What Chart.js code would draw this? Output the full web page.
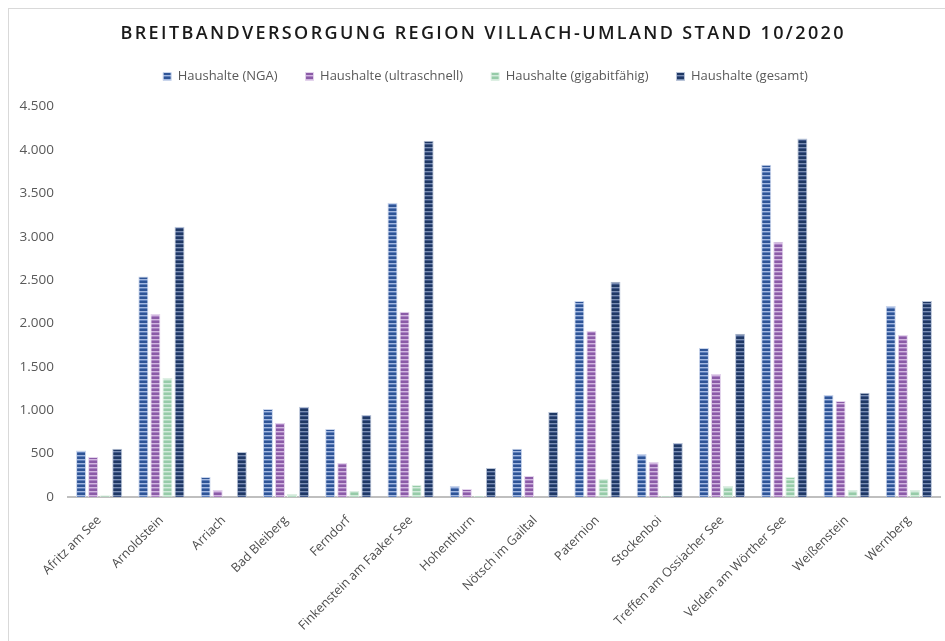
<!DOCTYPE html>
<html><head><meta charset="utf-8">
<script src="https://cdn.jsdelivr.net/npm/chart.js@4/dist/chart.umd.min.js"></script>
<style>
html,body{margin:0;padding:0;background:#fff;overflow:hidden}
#wrap{position:absolute;left:8px;top:8px;width:937px;height:633px;border-left:1px solid #d9d9d9;border-top:1px solid #d9d9d9;}
</style></head><body>
<div id="wrap"><canvas id="c"></canvas></div>
<script>
const chartTitle = 'BREITBANDVERSORGUNG REGION VILLACH-UMLAND STAND 10/2020';
const categories = ['Afritz am See','Arnoldstein','Arriach','Bad Bleiberg','Ferndorf','Finkenstein am Faaker See','Hohenthurn','Nötsch im Gailtal','Paternion','Stockenboi','Treffen am Ossiacher See','Velden am Wörther See','Weißenstein','Wernberg'];
const seriesNames = ['Haushalte (NGA)','Haushalte (ultraschnell)','Haushalte (gigabitfähig)','Haushalte (gesamt)'];
const haushalteNGA        = [535, 2540, 230, 1015, 785, 3390, 127, 555, 2260, 496, 1718, 3830, 1176, 2200];
const haushalteUltra      = [460, 2110,  80,  853, 392, 2135,  92, 242, 1915, 404, 1418, 2940, 1107, 1868];
const haushalteGigabit    = [ 20, 1370,   0,   35,  70,  138,  12,   0,  210,  12,  127,  230,   80,   80];
const haushalteGesamt     = [555, 3115, 520, 1040, 945, 4105, 335, 980, 2480, 623, 1880, 4130, 1200, 2260];
const yMax = 4500, yStep = 500;

function fmt(v){ return String(v).replace(/\B(?=(\d{3})+(?!\d))/g, '.'); }

function stripes(dark, light, mid){
  const c = document.createElement('canvas'); c.width = 4; c.height = 4;
  const g = c.getContext('2d');
  g.fillStyle = dark; g.fillRect(0,0,4,4);
  g.fillStyle = light; g.fillRect(0,2,4,1);
  g.fillStyle = mid; g.fillRect(0,3,4,1);
  return g.createPattern(c,'repeat');
}
const fills = [
  stripes('#2E5496','#A3B8E0','#5F80BC'),
  stripes('#8B5BA7','#D2B6E0','#AB82C3'),
  stripes('#96CBA8','#D2EADB','#B2DAC0'),
  stripes('#1F3864','#7A8EB2','#41588A')
];
const borders = ['#C9D5EC','#E3D3EC','#DDEFE3','#B9C4D8'];
const values = [haushalteNGA, haushalteUltra, haushalteGigabit, haushalteGesamt];

const titlePlugin = {
  id:'spacedTitle',
  beforeLayout(chart){
    const lg = chart.legend;
    if (lg && !lg._patched){
      const orig = lg.fit;
      lg.fit = function(){ orig.call(this); this.height += 13.5; };
      lg._patched = true;
    }
  },
  afterLayout(chart){
    const lg = chart.legend;
    if (lg){ lg.left += 11; lg.right += 11; }
  },
  afterDraw(chart){
    const ctx = chart.ctx; ctx.save();
    ctx.font = '600 18px "Open Sans"';
    ctx.fillStyle = '#1a1a1a'; ctx.textAlign = 'center'; ctx.textBaseline = 'middle';
    ctx.letterSpacing = '0px';
    const w0 = ctx.measureText(chartTitle).width;
    const sp = Math.max(0, (723 - w0) / (chartTitle.length - 1));
    ctx.letterSpacing = sp + 'px';
    ctx.fillText(chartTitle, 473 + sp/2, 25);
    ctx.restore();
  }
};

new Chart(document.getElementById('c'), {
  type:'bar',
  data:{
    labels: categories,
    datasets: seriesNames.map((n,i)=>({
      label:n, data:values[i], backgroundColor:fills[i], borderColor:borders[i], borderWidth:1,
      categoryPercentage:0.774, barPercentage:0.83
    }))
  },
  options:{
    responsive:true, maintainAspectRatio:false, animation:false,
    layout:{padding:{top:33,left:0,right:6,bottom:0}},
    plugins:{
      title:{display:false},
      tooltip:{enabled:false},
      legend:{position:'top', labels:{boxWidth:8, boxHeight:8, padding:28, color:'#595959', font:{family:'"Open Sans"', size:13}}}
    },
    scales:{
      x:{
        grid:{display:false},
        border:{color:'#BFBFBF', width:2},
        ticks:{color:'#4d4d4d', font:{family:'"Open Sans"', size:12.5}, maxRotation:45, minRotation:45, padding:8, autoSkip:false},
        afterFit(s){ s.height = 145; }
      },
      y:{
        min:0, max:yMax,
        grid:{display:false}, border:{display:false},
        ticks:{stepSize:yStep, color:'#595959', font:{family:'"Open Sans"', size:13.5}, padding:6,
          callback:v=>fmt(v)},
        afterFit(s){ s.width = 59; }
      }
    }
  },
  plugins:[titlePlugin]
});
</script>
</body></html>
